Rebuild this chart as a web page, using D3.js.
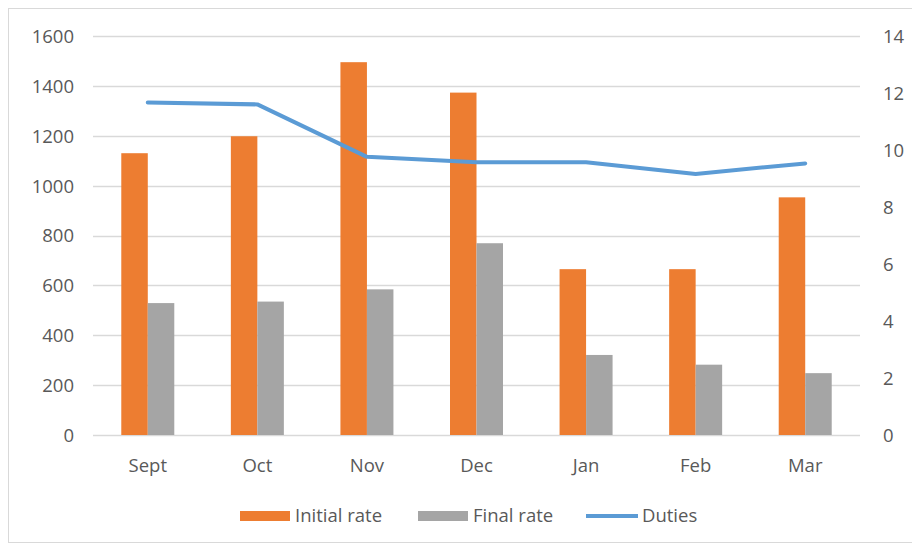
<!DOCTYPE html>
<html>
<head>
<meta charset="utf-8">
<script src="https://cdn.jsdelivr.net/npm/d3@7"></script>
<style>
html,body{margin:0;padding:0;background:#fff;}
svg{display:block;}
text{font-family:"Open Sans","Noto Sans",sans-serif;fill:#595959;}
</style>
</head>
<body>
<svg id="chart" width="912" height="548"></svg>
<script>
const categories = ["Sept","Oct","Nov","Dec","Jan","Feb","Mar"];
const initialRate = [1130,1198,1495,1373,665,665,953];
const finalRate = [529,535,584,769,321,282,248];
const duties = [11.67,11.60,9.76,9.57,9.57,9.16,9.53];
const leftTicks = [0,200,400,600,800,1000,1200,1400,1600];
const rightTicks = [0,2,4,6,8,10,12,14];
const seriesNames = ["Initial rate","Final rate","Duties"];
const colors = {initial:"#ED7D31", final:"#A5A5A5", duties:"#5B9BD5"};

const svg = d3.select("#chart");
const W = 912, H = 548;
const plot = {left:93, right:860, top:36, bottom:435};
const FS = 18.5;

// chart border
svg.append("rect").attr("x",8.5).attr("y",8.5).attr("width",W+10).attr("height",534)
  .attr("fill","#fff").attr("stroke","#D9D9D9").attr("stroke-width",1);

const x = d3.scaleBand().domain(categories).range([plot.left, plot.right]).paddingInner(0).paddingOuter(0);
const yL = d3.scaleLinear().domain([0,1600]).range([plot.bottom, plot.top]);
const yR = d3.scaleLinear().domain([0,14]).range([plot.bottom, plot.top]);

// gridlines
svg.append("g").selectAll("line").data(leftTicks).join("line")
  .attr("x1",plot.left).attr("x2",plot.right)
  .attr("y1",d=>Math.round(yL(d))+0.5).attr("y2",d=>Math.round(yL(d))+0.5)
  .attr("stroke","#D9D9D9").attr("stroke-width",1.5);

// left axis
const axL = d3.axisLeft(yL).tickValues(leftTicks).tickFormat(d3.format("d")).tickSize(0).tickPadding(0);
const gL = svg.append("g").attr("transform",`translate(${74},0)`).call(axL);
gL.select(".domain").remove();
gL.selectAll("text").attr("font-size",FS).attr("dy","0.35em").attr("fill","#595959");

// right axis
const axR = d3.axisRight(yR).tickValues(rightTicks).tickFormat(d3.format("d")).tickSize(0).tickPadding(0);
const gR = svg.append("g").attr("transform",`translate(${883},0)`).call(axR);
gR.select(".domain").remove();
gR.selectAll("text").attr("font-size",FS).attr("dy","0.35em").attr("fill","#595959");

// x axis labels
const axX = d3.axisBottom(x).tickSize(0).tickPadding(0);
const gX = svg.append("g").attr("transform",`translate(0,${466})`).call(axX);
gX.select(".domain").remove();
gX.selectAll("text").attr("font-size",FS).attr("dy","0.35em").attr("fill","#595959");

// bars
const barW = 26.5;
const gBars = svg.append("g");
gBars.selectAll("rect.init").data(categories).join("rect").attr("class","init")
  .attr("x",d=>x(d)+x.bandwidth()/2-barW).attr("width",barW)
  .attr("y",(d,i)=>yL(initialRate[i])).attr("height",(d,i)=>yL(0)-yL(initialRate[i]))
  .attr("fill",colors.initial);
gBars.selectAll("rect.fin").data(categories).join("rect").attr("class","fin")
  .attr("x",d=>x(d)+x.bandwidth()/2).attr("width",barW)
  .attr("y",(d,i)=>yL(finalRate[i])).attr("height",(d,i)=>yL(0)-yL(finalRate[i]))
  .attr("fill",colors.final);

// line
const line = d3.line().x((d,i)=>x(categories[i])+x.bandwidth()/2).y(d=>yR(d));
svg.append("path").datum(duties).attr("d",line).attr("fill","none")
  .attr("stroke",colors.duties).attr("stroke-width",4).attr("stroke-linejoin","round").attr("stroke-linecap","round");

// legend
const lg = svg.append("g");
const ly = 516;
lg.append("rect").attr("x",240).attr("y",ly-5).attr("width",50).attr("height",10).attr("fill",colors.initial);
lg.append("text").attr("x",295).attr("y",ly).attr("dy","0.35em").attr("font-size",FS).text(seriesNames[0]);
lg.append("rect").attr("x",418).attr("y",ly-5).attr("width",50).attr("height",10).attr("fill",colors.final);
lg.append("text").attr("x",473).attr("y",ly).attr("dy","0.35em").attr("font-size",FS).text(seriesNames[1]);
lg.append("line").attr("x1",586).attr("x2",638).attr("y1",ly).attr("y2",ly).attr("stroke",colors.duties).attr("stroke-width",4);
lg.append("text").attr("x",642).attr("y",ly).attr("dy","0.35em").attr("font-size",FS).text(seriesNames[2]);
</script>
</body>
</html>
